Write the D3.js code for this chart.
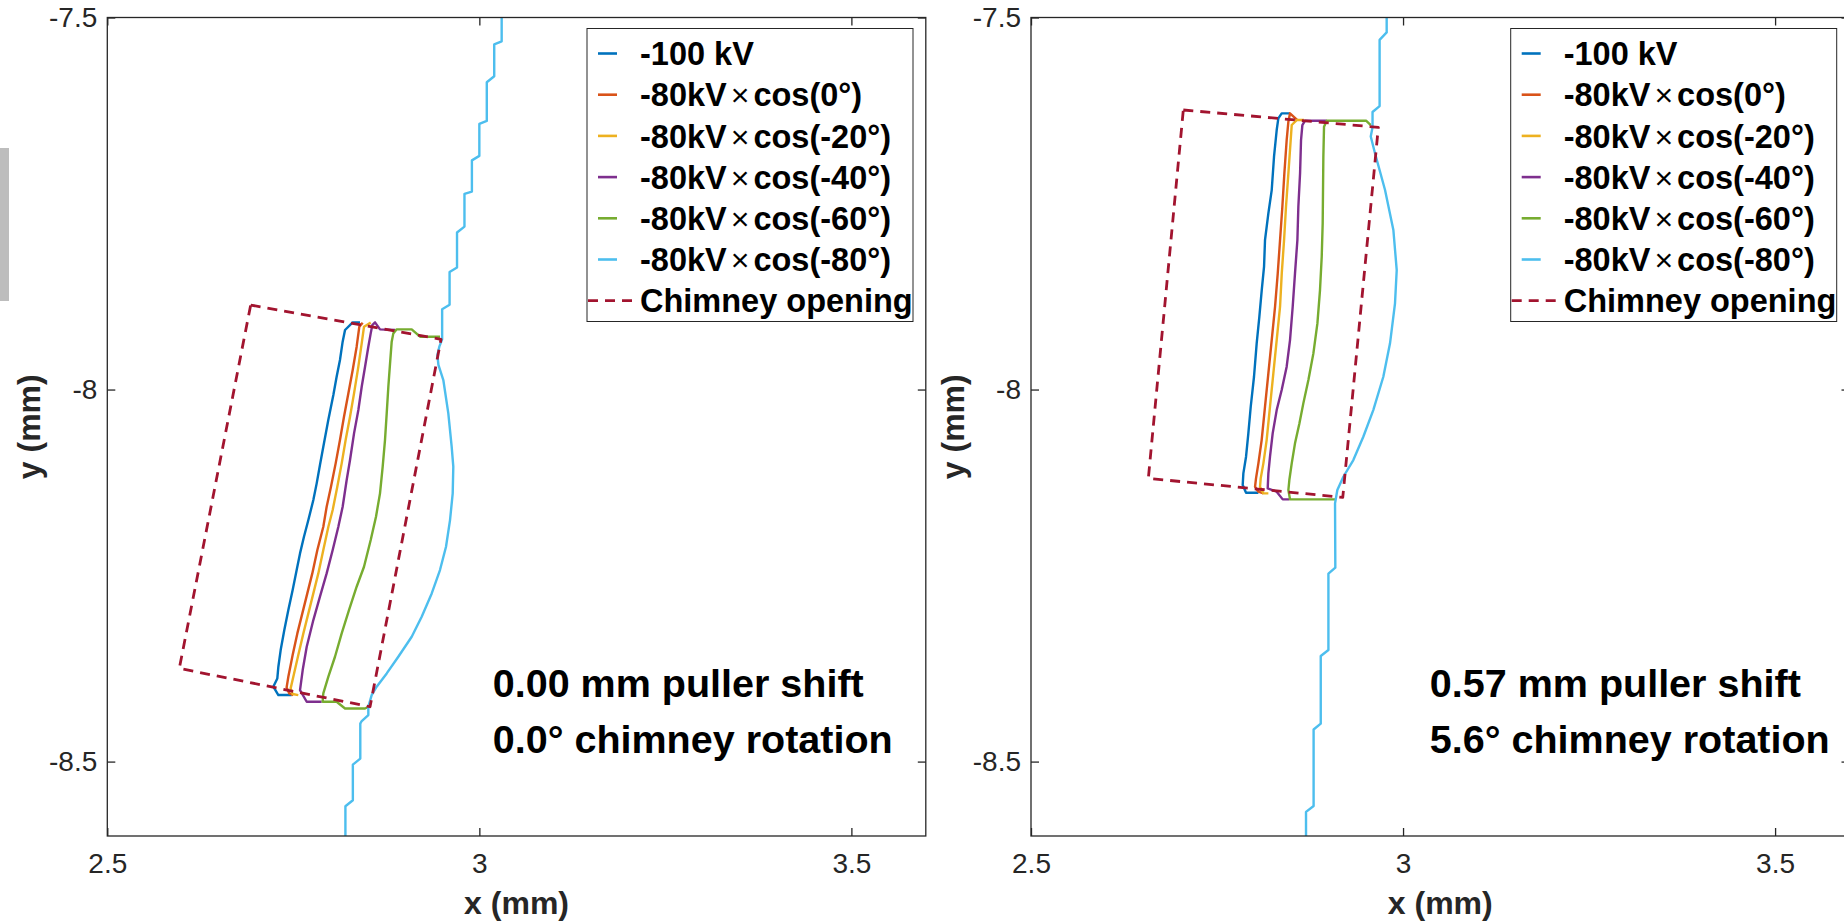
<!DOCTYPE html>
<html>
<head>
<meta charset="utf-8">
<script src="https://cdn.jsdelivr.net/npm/d3@7"></script>
<style>
  body { margin: 0; background: #fff; }
  text { font-family: "Liberation Sans", Arial, sans-serif; }
</style>
</head>
<body>
<div id="chart"></div>
<script>
// ---- data (mm) ----
const legendLabels = ["-100 kV", "-80kV×cos(0°)", "-80kV×cos(-20°)", "-80kV×cos(-40°)",
                      "-80kV×cos(-60°)", "-80kV×cos(-80°)", "Chimney opening"];
const seriesColors = ["#0072BD", "#D95319", "#EDB120", "#7E2F8E", "#77AC30", "#4DBEEE", "#A2142F"];
const xTicks = [2.5, 3, 3.5];
const yTicks = [-7.5, -8, -8.5];
const xDomain = [2.5, 3.6];
const yDomain = [-8.6, -7.5];

// left panel: 0.00 mm shift
const leftBlue = [[2.7478,-8.4106],[2.7299,-8.4106],[2.7231,-8.3994],[2.7285,-8.3882],[2.7299,-8.3725],[2.733,-8.3501],
  [2.7379,-8.3232],[2.7433,-8.2964],[2.7491,-8.2695],[2.7545,-8.2426],[2.759,-8.2202],[2.7643,-8.1978],[2.7702,-8.1754],
  [2.7769,-8.1485],[2.7814,-8.1261],[2.7858,-8.1015],[2.7903,-8.0768],[2.797,-8.041],[2.8038,-8.0074],[2.8082,-7.9827],
  [2.8127,-7.9603],[2.8163,-7.9357],[2.8195,-7.92],[2.8298,-7.9097],[2.8396,-7.9097]];
const leftOrange = [[2.8432,-7.9101],[2.8387,-7.9155],[2.8351,-7.9424],[2.8298,-7.9738],[2.824,-8.0051],[2.8181,-8.0365],
  [2.8127,-8.0679],[2.8069,-8.0992],[2.8006,-8.1306],[2.7948,-8.1575],[2.7903,-8.1843],[2.7823,-8.2157],[2.7755,-8.2471],
  [2.7688,-8.2739],[2.7621,-8.3008],[2.7554,-8.3277],[2.7491,-8.3568],[2.7433,-8.3859],[2.741,-8.4003],[2.7446,-8.4084],[2.75,-8.4106]];
const leftYellow = [[2.854,-7.9101],[2.845,-7.9155],[2.8419,-7.9379],[2.8374,-7.9693],[2.8316,-8.0051],[2.8262,-8.0365],
  [2.8203,-8.0679],[2.815,-8.0992],[2.8091,-8.1306],[2.8029,-8.1619],[2.7971,-8.1843],[2.7903,-8.2157],[2.7836,-8.2471],
  [2.7769,-8.2739],[2.7702,-8.3008],[2.7635,-8.3277],[2.7567,-8.3568],[2.75,-8.3859],[2.7464,-8.4016],[2.7491,-8.4092],[2.7567,-8.4106]];
const leftPurple = [[2.8867,-7.92],[2.8665,-7.9191],[2.8598,-7.9097],[2.8562,-7.9133],[2.854,-7.9245],[2.8508,-7.9424],
  [2.8464,-7.9693],[2.8419,-7.9962],[2.8374,-8.0275],[2.8316,-8.0589],[2.8262,-8.0947],[2.8217,-8.1216],[2.8163,-8.1575],
  [2.8105,-8.1843],[2.8029,-8.2157],[2.7948,-8.2471],[2.7858,-8.2784],[2.7769,-8.3098],[2.768,-8.3456],[2.7626,-8.377],
  [2.759,-8.4039],[2.768,-8.4196],[2.7881,-8.4196]];
const leftGreen = [[2.9471,-7.929],[2.9203,-7.929],[2.9091,-7.9191],[2.8889,-7.9191],[2.8844,-7.9245],[2.8822,-7.9357],
  [2.88,-7.9648],[2.8777,-7.9962],[2.8755,-8.032],[2.8732,-8.0679],[2.8701,-8.1037],[2.8665,-8.1395],[2.8611,-8.1709],
  [2.854,-8.2023],[2.845,-8.2381],[2.8351,-8.265],[2.8248,-8.2964],[2.815,-8.3277],[2.806,-8.3591],[2.7971,-8.3859],
  [2.7903,-8.4084],[2.7894,-8.4196],[2.8082,-8.4196],[2.8195,-8.4286],[2.8464,-8.4286],[2.8508,-8.4263]];
const leftCyan = [[3.03,-7.5],[3.03,-7.532],[3.02,-7.536],[3.02,-7.579],[3.01,-7.587],[3.01,-7.639],[3.0,-7.643],[3.0,-7.686],
  [2.99,-7.692],[2.99,-7.734],[2.98,-7.737],[2.98,-7.781],[2.97,-7.789],[2.97,-7.836],[2.96,-7.842],[2.96,-7.886],
  [2.95,-7.892],[2.95,-7.9325],[2.9462,-7.9424],[2.9436,-7.9536],[2.945,-7.967],[2.9516,-7.9872],[2.9583,-8.032],
  [2.9628,-8.0768],[2.965,-8.1037],[2.9642,-8.1395],[2.9606,-8.1754],[2.9552,-8.2112],[2.9471,-8.2426],[2.936,-8.274],
  [2.9225,-8.3053],[2.9091,-8.3322],[2.8911,-8.3591],[2.8755,-8.3815],[2.862,-8.3994],[2.8553,-8.4106],[2.8508,-8.4263],
  [2.8508,-8.4375],[2.8419,-8.4455],[2.84,-8.449],[2.84,-8.496],[2.83,-8.504],[2.83,-8.552],[2.82,-8.56],[2.82,-8.6]];
const leftChimney = [[2.6927,-7.8864],[2.9485,-7.9325],[2.8531,-8.4263],[2.5968,-8.3747],[2.6927,-7.8864]];

// right panel: 0.57 mm shift
const rightBlue = [[2.8056,-8.1387],[2.789,-8.1387],[2.7845,-8.1283],[2.7854,-8.1127],[2.789,-8.0903],[2.7921,-8.0589],
  [2.7953,-8.0231],[2.7997,-7.9828],[2.8033,-7.9379],[2.8069,-7.9021],[2.8101,-7.8663],[2.8132,-7.8349],[2.8145,-7.799],
  [2.819,-7.7632],[2.8235,-7.7319],[2.8266,-7.6871],[2.8302,-7.6512],[2.8324,-7.6355],[2.8369,-7.6288],[2.8481,-7.6288]];
const rightOrange = [[2.8123,-8.1396],[2.8056,-8.1373],[2.8011,-8.1306],[2.8024,-8.1194],[2.8056,-8.0992],[2.81,-8.0679],
  [2.8145,-8.0231],[2.819,-7.9783],[2.8235,-7.9335],[2.828,-7.8887],[2.8316,-7.8439],[2.8347,-7.7991],[2.8378,-7.7543],
  [2.8405,-7.7095],[2.8436,-7.6647],[2.8459,-7.64],[2.8481,-7.6288],[2.858,-7.6378]];
const rightYellow = [[2.819,-8.1396],[2.8123,-8.1396],[2.8078,-8.1306],[2.8087,-8.1194],[2.8123,-8.0992],[2.8167,-8.0679],
  [2.8212,-8.0231],[2.8257,-7.9783],[2.8302,-7.9335],[2.8347,-7.8887],[2.837,-7.8439],[2.8401,-7.7991],[2.8427,-7.7543],
  [2.8459,-7.7095],[2.849,-7.6647],[2.8504,-7.6445],[2.8571,-7.6378],[2.8669,-7.6378]];
const rightPurple = [[2.8472,-8.1476],[2.8383,-8.1476],[2.8302,-8.1373],[2.8181,-8.1328],[2.819,-8.1127],[2.8212,-8.0903],
  [2.8248,-8.0589],[2.8302,-8.0276],[2.8369,-8.0007],[2.8436,-7.9693],[2.8481,-7.9335],[2.8517,-7.8887],[2.8548,-7.8439],
  [2.858,-7.7991],[2.8593,-7.7543],[2.8616,-7.7095],[2.8629,-7.6647],[2.8647,-7.6445],[2.8683,-7.6387],[2.8974,-7.6387]];
const rightGreen = [[2.9086,-8.1476],[2.8481,-8.1476],[2.8459,-8.135],[2.8472,-8.1216],[2.8504,-8.0992],[2.8548,-8.0723],
  [2.8607,-8.0455],[2.866,-8.0186],[2.8728,-7.9872],[2.8795,-7.9514],[2.8849,-7.9111],[2.8884,-7.8663],[2.8907,-7.8215],
  [2.892,-7.7767],[2.8929,-7.6871],[2.8938,-7.6467],[2.8974,-7.6387],[2.9503,-7.6387],[2.9566,-7.6445]];
const rightCyan = [[2.978,-7.5],[2.978,-7.52],[2.9685,-7.53],[2.9685,-7.619],[2.959,-7.627],[2.959,-7.6476],[2.9566,-7.66],
  [2.9623,-7.6825],[2.9758,-7.7318],[2.987,-7.7856],[2.9915,-7.8394],[2.9892,-7.8841],[2.9825,-7.9379],[2.9735,-7.9828],
  [2.96,-8.0276],[2.9466,-8.0634],[2.9332,-8.0948],[2.9198,-8.1172],[2.9117,-8.1351],[2.9086,-8.153],[2.909,-8.2394],
  [2.8997,-8.2473],[2.8997,-8.3501],[2.8894,-8.3581],[2.8894,-8.449],[2.8798,-8.4569],[2.8798,-8.5597],[2.8696,-8.5676],[2.8696,-8.6]];
const rightChimney = [[2.7047,-7.6243],[2.9668,-7.6476],[2.919,-8.1449],[2.6577,-8.1194],[2.7047,-7.6243]];

const panelNotes = [["0.00 mm puller shift", "0.0° chimney rotation"],
                    ["0.57 mm puller shift", "5.6° chimney rotation"]];
const noteX = [3.018, 3.036];
const noteY = [-8.4133, -8.4886];

const panels = [
  {left: 107.3, series: [leftBlue, leftOrange, leftYellow, leftPurple, leftGreen, leftCyan, leftChimney], notes: panelNotes[0], nx: noteX[0]},
  {left: 1031, series: [rightBlue, rightOrange, rightYellow, rightPurple, rightGreen, rightCyan, rightChimney], notes: panelNotes[1], nx: noteX[1]}
];

// ---- layout ----
const W = 1844, H = 922;
const axTop = 17.5, size = 818.5;
const axisColor = "#262626";

const svg = d3.select("#chart").append("svg").attr("width", W).attr("height", H);

// grey strip at the far left edge of the picture
svg.append("rect").attr("x", 0).attr("y", 148).attr("width", 9).attr("height", 153).attr("fill", "#bdbdbd");

panels.forEach((p, pi) => {
    const x = d3.scaleLinear().domain(xDomain).range([0, size]);
    const y = d3.scaleLinear().domain(yDomain).range([size, 0]);
    const g = svg.append("g").attr("transform", `translate(${p.left},${axTop})`);

    g.append("clipPath").attr("id", "clip" + pi)
        .append("rect").attr("width", size).attr("height", size);

    const line = d3.line().x(d => x(d[0])).y(d => y(d[1]));
    const plot = g.append("g").attr("clip-path", `url(#clip${pi})`);
    p.series.forEach((s, i) => {
        plot.append("path")
            .datum(s)
            .attr("fill", "none")
            .attr("stroke", seriesColors[i])
            .attr("stroke-width", i == 6 ? 2.8 : 2.4)
            .attr("stroke-dasharray", i == 6 ? "10,7" : null)
            .attr("stroke-linejoin", "round")
            .attr("d", line);
    });

    // axes, ticks pointing inwards like matlab
    const xb = g.append("g").attr("transform", `translate(0,${size})`)
        .call(d3.axisBottom(x).tickValues(xTicks).tickSizeInner(-8).tickSizeOuter(0).tickPadding(17).tickFormat(d3.format("")));
    const yl = g.append("g")
        .call(d3.axisLeft(y).tickValues(yTicks).tickSizeInner(-8).tickSizeOuter(0).tickPadding(10).tickFormat(d3.format("")));
    g.append("g").call(d3.axisTop(x).tickValues(xTicks).tickSizeInner(-8).tickSizeOuter(0).tickFormat(""));
    g.append("g").attr("transform", `translate(${size},0)`)
        .call(d3.axisRight(y).tickValues(yTicks).tickSizeInner(-8).tickSizeOuter(0).tickFormat(""));
    g.selectAll(".domain").remove();
    g.selectAll(".tick line").attr("stroke", axisColor).attr("stroke-width", 1.3);
    [xb, yl].forEach(a => a.selectAll("text")
        .attr("font-size", 28).attr("fill", axisColor).attr("font-family", "Liberation Sans, Arial, sans-serif"));
    yl.selectAll("text").text(d => String(d));

    g.append("rect").attr("width", size).attr("height", size)
        .attr("fill", "none").attr("stroke", axisColor).attr("stroke-width", 1.3);

    g.append("text").attr("x", size / 2).attr("y", 896).attr("text-anchor", "middle")
        .attr("font-size", 32).attr("font-weight", "bold").attr("fill", axisColor).text("x (mm)");
    g.append("text").attr("transform", `translate(-67,${size / 2}) rotate(-90)`)
        .attr("text-anchor", "middle")
        .attr("font-size", 32).attr("font-weight", "bold").attr("fill", axisColor).text("y (mm)");

    // legend
    const lg = g.append("g").attr("transform", "translate(479.7,11)");
    lg.append("rect").attr("width", 326).attr("height", 293)
        .attr("fill", "#fff").attr("stroke", axisColor).attr("stroke-width", 1);
    legendLabels.forEach((lab, i) => {
        const cy = 25 + i * 41.2;
        lg.append("line")
            .attr("x1", i == 6 ? 1 : 11).attr("x2", i == 6 ? 49 : 30)
            .attr("y1", cy).attr("y2", cy)
            .attr("stroke", seriesColors[i]).attr("stroke-width", i == 6 ? 2.8 : 2.6)
            .attr("stroke-dasharray", i == 6 ? "10,7" : null);
        const t = lg.append("text").attr("x", 53).attr("y", cy).attr("dy", "0.36em")
            .attr("font-size", 32.5).attr("font-weight", "bold").attr("fill", "#000");
        const parts = lab.split("×");
        t.append("tspan").text(parts[0]);
        if (parts.length > 1) {
            t.append("tspan").attr("dx", 4).attr("font-weight", "normal").attr("font-size", 32).text("×");
            t.append("tspan").attr("dx", 4).text(parts[1]);
        }
    });

    // annotation
    p.notes.forEach((n, i) => {
        g.append("text").attr("x", x(p.nx)).attr("y", y(noteY[i]))
            .attr("font-family", "Lato, 'Open Sans', sans-serif")
            .attr("font-size", 39.5).attr("font-weight", "bold").attr("fill", "#000").text(n);
    });
});
</script>
</body>
</html>
